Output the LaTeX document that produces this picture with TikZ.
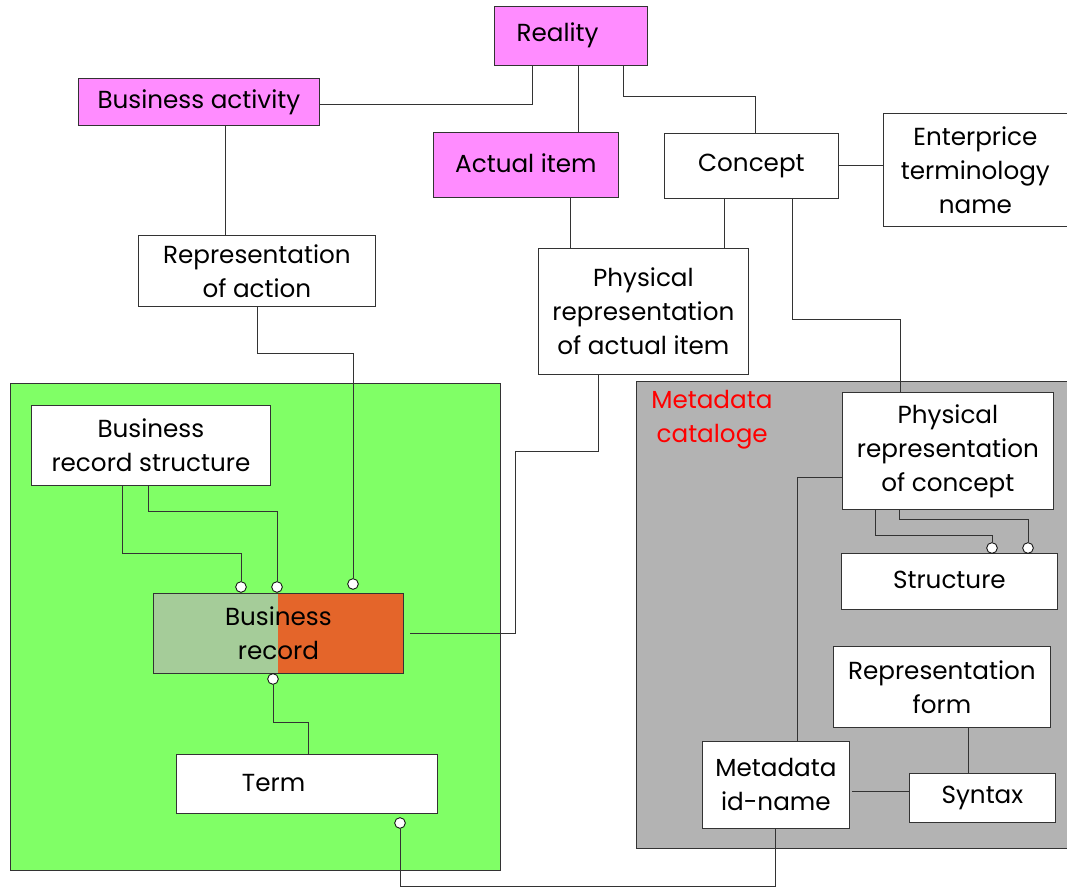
\documentclass[tikz,border=0pt]{standalone}
\usepackage{fontspec}
\setmainfont{Poppins}
\usetikzlibrary{calc}
\definecolor{realpink}{HTML}{FF8CFF}
\definecolor{recgreen}{HTML}{80FF66}
\definecolor{catgray}{HTML}{B3B3B3}
\definecolor{recleft}{HTML}{A5CC99}
\definecolor{recright}{HTML}{E4652A}
\definecolor{edge}{HTML}{333333}
\tikzset{
  sz/.style 2 args={minimum width=#1*0.75pt, minimum height=#2*0.75pt},
  box/.style={draw=edge, fill=white, line width=0.6pt, inner sep=0pt, anchor=north west,
              align=center, font=\fontsize{18.5}{25.5}\selectfont},
  pinkbox/.style={box, fill=realpink},
  region/.style={draw=edge, line width=0.6pt},
  link/.style={draw=edge, line width=0.6pt},
  dot/.style={circle, draw=black, fill=white, line width=0.6pt, inner sep=0pt, minimum size=8pt},
  catlabel/.style={text=red, align=left, anchor=north west, inner sep=0pt,
              font=\fontsize{18.5}{25.5}\selectfont}
}
\begin{document}
\begin{tikzpicture}[x=0.75pt, y=-0.75pt]
\useasboundingbox (0,0) rectangle (1067,888);

% background regions
\fill[recgreen, region] (10,383) rectangle (500,870);
\fill[catgray, region] (636,381) rectangle (1070,848);
\node[catlabel] (catlbl) at (651,390) {Metadata\\\hspace*{4pt}cataloge};

% upper level
\node[pinkbox, sz={153}{59}] (real) at (494,6) {\raisebox{6pt}{Reality\hspace{20pt}}};
\node[pinkbox, sz={241}{47}] (ba) at (78,78) {\raisebox{2pt}{Business activity}};
\node[pinkbox, sz={185}{65}] (act) at (433,132) {\raisebox{3pt}{Actual item}};
\node[box, sz={174}{65}] (con) at (664,133) {\raisebox{2pt}{Concept}};
\node[box, sz={184}{113}] (etn) at (883,113) {Enterprice\\terminology\\name};
\node[box, sz={237}{71}] (ra) at (138,235) {Representation\\of action};
\node[box, sz={210}{126}] (pra) at (538,248) {Physical\\representation\\of actual item};

% business record area
\node[box, sz={239}{80}] (brs) at (31,405) {Business\\record structure};
\node[box, sz={250}{80}, fill=recleft,
      path picture={\fill[recright] (path picture bounding box.north)
                    rectangle (path picture bounding box.south east);}]
      (br) at (153,593) {Business\\record};
\node[box, sz={261}{59}] (term) at (176,754) {\raisebox{2pt}{Term}\hspace{50pt}};

% metadata catalogue area
\node[box, sz={211}{117}] (prc) at (842,392) {Physical\\representation\\of concept};
\node[box, sz={216}{56}] (str) at (841,553) {\raisebox{2pt}{Structure}};
\node[box, sz={217}{81}] (rf) at (833,646) {Representation\\form};
\node[box, sz={146}{49}] (syn) at (909,773) {Syntax};
\node[box, sz={147}{87}] (mid) at (702,741) {Metadata\\id-name};

% connector end circles
\node[dot] (d1) at (241,587) {};
\node[dot] (d2) at (277,587) {};
\node[dot] (d3) at (353,584) {};
\node[dot] (d4) at (273,679) {};
\node[dot] (d5) at (400,823) {};
\node[dot] (d6) at (992,548) {};
\node[dot] (d7) at (1028,548) {};

% connectors
\draw[link] (ba.east |- 0,104) -| (real.south -| 532,0);
\draw[link] (real.south -| 578,0) -- (act.north -| 578,0);
\draw[link] (real.south -| 623,0) -- (623,96) -| (con.north -| 755,0);
\draw[link] (ba.south -| 225,0) -- (ra.north -| 225,0);
\draw[link] (act.south -| 570,0) -- (pra.north -| 570,0);
\draw[link] (con.south -| 724,0) -- (pra.north -| 724,0);
\draw[link] (con.south -| 792,0) -- (792,319) -| (prc.north -| 900,0);
\draw[link] (con.east) -- (etn.west |- con.east);
\draw[link] (ra.south -| 257,0) -- (257,353) -| (d3.north);
\draw[link] (pra.south -| 598,0) -- (598,451) -- (515,451) |- ([xshift=5pt]br.east);
\draw[link] (brs.south -| 122,0) -- (122,553) -| (d1.north);
\draw[link] (brs.south -| 148,0) -- (148,511) -| (d2.north);
\draw[link] (d4.south) -- (273,722) -| (term.north -| 308,0);
\draw[link] (d5.south) -- (400,886) -| (mid.south -| 775,0);
\draw[link] (mid.north -| 797,0) |- (prc.west |- 0,477);
\draw[link] (prc.south -| 875,0) -- (875,535) -| (d6.north);
\draw[link] (prc.south -| 899,0) -- (899,519) -| (d7.north);
\draw[link] (rf.south -| 968,0) -- (syn.north -| 968,0);
\draw[link] ([xshift=2pt]mid.east |- 0,791) -- (syn.west |- 0,791);
\end{tikzpicture}
\end{document}
